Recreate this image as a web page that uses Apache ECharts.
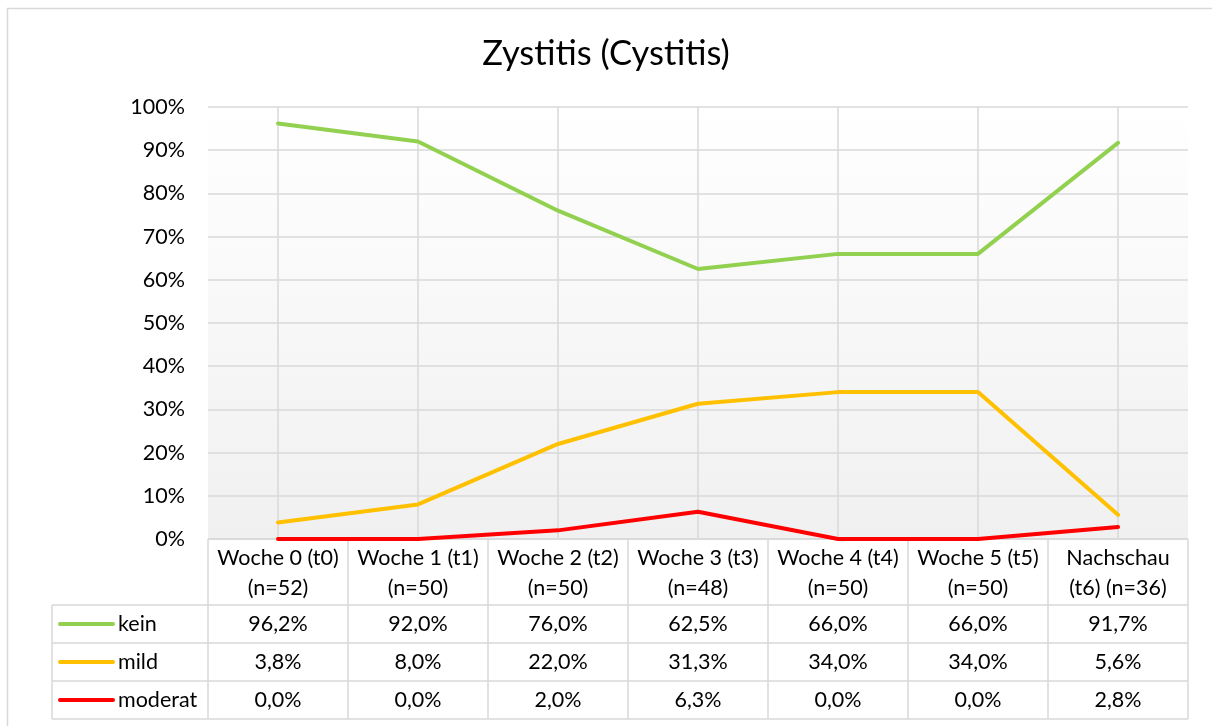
<!DOCTYPE html>
<html>
<head>
<meta charset="utf-8">
<script src="https://cdn.jsdelivr.net/npm/echarts@6/dist/echarts.min.js"></script>
<style>
  html, body { margin: 0; padding: 0; background: #fff; }
  #chart { width: 1212px; height: 726px; }
</style>
</head>
<body>
<div id="chart"></div>
<script>
const categories = ['Woche 0 (t0)\n(n=52)', 'Woche 1 (t1)\n(n=50)', 'Woche 2 (t2)\n(n=50)', 'Woche 3 (t3)\n(n=48)',
    'Woche 4 (t4)\n(n=50)', 'Woche 5 (t5)\n(n=50)', 'Nachschau\n(t6) (n=36)'];
const seriesNames = ['kein', 'mild', 'moderat'];
const kein = [96.2, 92.0, 76.0, 62.5, 66.0, 66.0, 91.7];
const mild = [3.8, 8.0, 22.0, 31.3, 34.0, 34.0, 5.6];
const moderat = [0.0, 0.0, 2.0, 6.3, 0.0, 0.0, 2.8];
const colors = ['#92d050', '#ffc000', '#ff0000'];

const font = 'Lato, "Open Sans", sans-serif';
const gridColor = '#d9d9d9';
const fs = 21.5;

const chart = echarts.init(document.getElementById('chart'));

const fmt = v => v.toFixed(1).replace('.', ',') + '%';

let option = {
    animation: false,
    title: {
        text: 'Zystitis (Cystitis)',
        left: 'center',
        top: 31,
        textStyle: {fontFamily: font, fontSize: 34.5, fontWeight: 'normal', color: '#000'}
    },
    grid: [
        {left: 208, right: 24, top: 107, height: 432, show: true, borderWidth: 0,
            backgroundColor: new echarts.graphic.LinearGradient(0, 0, 0, 1, [
                {offset: 0, color: '#ffffff'}, {offset: 1, color: '#f0f0f0'}])},
        {left: 278, right: 94, top: 107, height: 432}
    ],
    xAxis: [
        {type: 'category', gridIndex: 0, data: categories, show: false},
        {type: 'category', gridIndex: 1, data: categories, boundaryGap: false,
            axisLine: {show: false}, axisTick: {show: false}, axisLabel: {show: false},
            splitLine: {show: true, lineStyle: {color: gridColor, width: 1.5}}}
    ],
    yAxis: [
        {type: 'value', gridIndex: 0, min: 0, max: 100, interval: 10,
            axisLine: {show: false}, axisTick: {show: false},
            axisLabel: {formatter: '{value}%', margin: 23, fontFamily: font, fontSize: fs, color: '#000'},
            splitLine: {lineStyle: {color: gridColor, width: 1.5}}},
        {type: 'value', gridIndex: 1, min: 0, max: 100, interval: 10, show: false, splitLine: {show: false}}
    ],
    series: [kein, mild, moderat].map((d, i) => ({
        name: seriesNames[i],
        type: 'line',
        xAxisIndex: 1,
        yAxisIndex: 1,
        data: d,
        symbol: 'none',
        lineStyle: {color: colors[i], width: 4, cap: 'round', join: 'round'},
        itemStyle: {color: colors[i]},
        z: 3 + (2 - i)
    }))
};
chart.setOption(option);

// data table under the chart
function buildTable() {
    const els = [];
    const top = 539, headerH = 66, rowH = 38;
    const colW = 140;
    const xs = categories.map((c, i) => chart.convertToPixel({xAxisIndex: 1}, i));
    const left0 = xs[0] - colW / 2;
    const right = xs[xs.length - 1] + colW / 2;
    const legendLeft = 52;
    const lineStyle = {stroke: gridColor, lineWidth: 1.5};
    const rowsTop = top + headerH;
    const bottom = rowsTop + rowH * seriesNames.length;

    // horizontal lines
    els.push({type: 'line', shape: {x1: left0, y1: top, x2: right, y2: top}, style: lineStyle});
    for (let r = 0; r <= seriesNames.length; r++) {
        const y = rowsTop + r * rowH;
        els.push({type: 'line', shape: {x1: legendLeft, y1: y, x2: right, y2: y}, style: lineStyle});
    }
    // vertical lines
    els.push({type: 'line', shape: {x1: legendLeft, y1: rowsTop, x2: legendLeft, y2: bottom}, style: lineStyle});
    for (let c = 0; c <= categories.length; c++) {
        const x = left0 + c * colW;
        els.push({type: 'line', shape: {x1: x, y1: top, x2: x, y2: bottom}, style: lineStyle});
    }
    // header
    categories.forEach((c, i) => {
        els.push({type: 'text', x: xs[i], y: top + headerH / 2 + 1,
            style: {text: c, fontFamily: font, fontSize: fs, fill: '#000', align: 'center',
                verticalAlign: 'middle', lineHeight: 30}});
    });
    // rows
    [kein, mild, moderat].forEach((d, r) => {
        const y = rowsTop + r * rowH + rowH / 2;
        els.push({type: 'line', shape: {x1: 60, y1: y, x2: 113, y2: y},
            style: {stroke: colors[r], lineWidth: 4, lineCap: 'round'}});
        els.push({type: 'text', x: 118, y: y,
            style: {text: seriesNames[r], fontFamily: font, fontSize: fs, fill: '#000',
                align: 'left', verticalAlign: 'middle'}});
        d.forEach((v, i) => {
            els.push({type: 'text', x: xs[i], y: y,
                style: {text: fmt(v), fontFamily: font, fontSize: fs, fill: '#000',
                    align: 'center', verticalAlign: 'middle'}});
        });
    });
    // outer chart border
    els.push({type: 'rect', shape: {x: 7.5, y: 8.5, width: 1300, height: 800},
        style: {fill: 'none', stroke: gridColor, lineWidth: 1.5}, silent: true});
    chart.setOption({graphic: els});
}
buildTable();
</script>
</body>
</html>
